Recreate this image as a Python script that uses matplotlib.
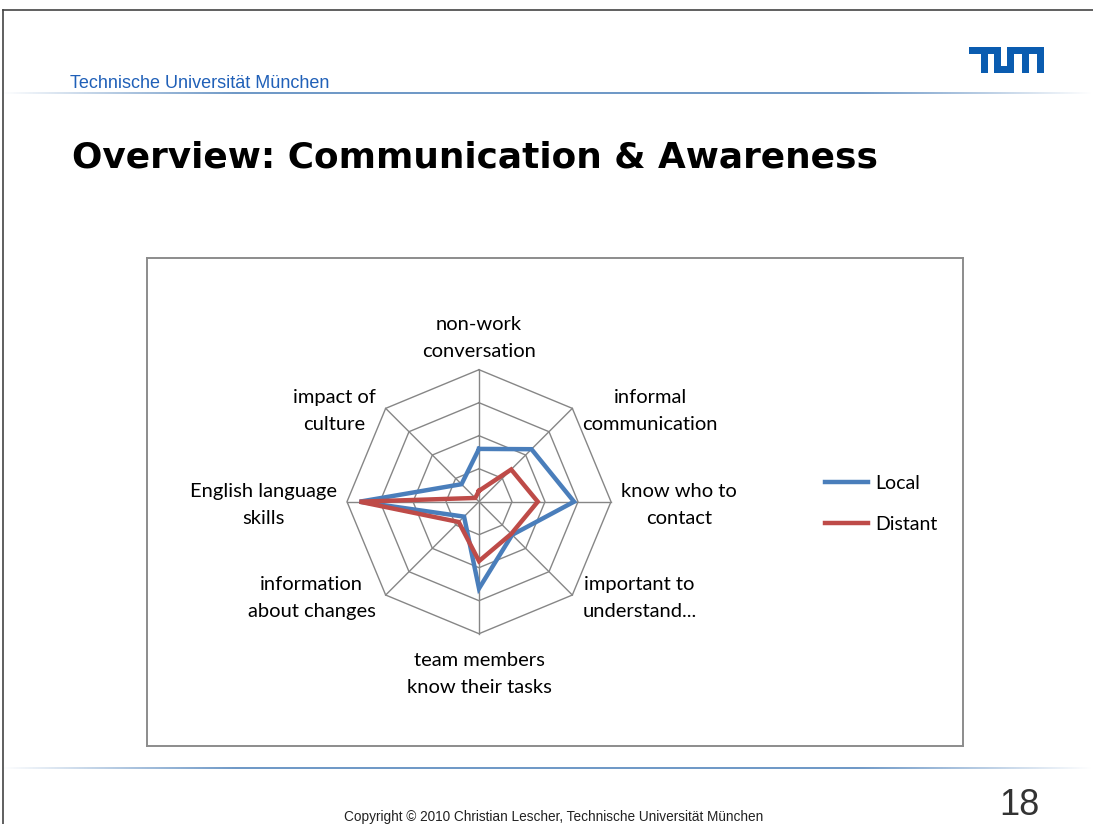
import numpy as np
import matplotlib.pyplot as plt
from matplotlib.patches import Rectangle

CATEGORIES = ['non-work\nconversation', 'informal\ncommunication', 'know who to\ncontact',
              'important to\nunderstand...', 'team members\nknow their tasks',
              'information\nabout changes', 'English language\nskills', 'impact of\nculture']
LOCAL = [1.6, 2.25, 2.88, 1.42, 2.63, 0.64, 3.62, 0.75]
DISTANT = [0.33, 1.38, 1.78, 1.38, 1.8, 0.87, 3.62, 0.16]
RINGS = [1, 2, 3, 4]

BLUE = '#4a7ebb'
RED = '#be4b48'
TUM_BLUE = '#0a5cb0'

W, H = 1093, 824
fig = plt.figure(figsize=(W / 100, H / 100), dpi=100)


def fx(px):
    return px / W


def fy(py):
    return 1 - py / H


# slide frame
fig.add_artist(plt.Line2D([fx(3), 1], [fy(10), fy(10)], color='#444444', lw=1.2))
fig.add_artist(plt.Line2D([fx(3), fx(3)], [fy(10), 0], color='#444444', lw=1.2))

# gradient rules under header and above footer
grad = np.linspace(0, 1, 400)
alpha = np.clip(np.sin(grad * np.pi) * 1.6, 0, 1)
rgba = np.zeros((1, 400, 4))
rgba[..., 0], rgba[..., 1], rgba[..., 2] = 0.38, 0.56, 0.76
rgba[..., 3] = alpha * 0.9
for ypx in (93, 768):
    gax = fig.add_axes([0, fy(ypx + 1), 1, 2 / H])
    gax.imshow(rgba, aspect='auto', extent=(0, 1, 0, 1))
    gax.axis('off')

fig.text(fx(70), fy(88), 'Technische Universität München', color='#2060b8',
         fontsize=13, family='Liberation Sans', va='baseline')

# TUM logo blocks (x0, y0, x1, y1) in pixels
for x0, y0, x1, y1 in [(969, 47, 1001, 54), (981, 47, 988, 73), (994, 47, 1001, 73),
                       (994, 66, 1014, 73), (1007, 47, 1014, 73), (1007, 47, 1044, 54),
                       (1022, 47, 1029, 73), (1037, 47, 1044, 73)]:
    fig.add_artist(Rectangle((fx(x0), fy(y1)), fx(x1 - x0), (y1 - y0) / H,
                             color=TUM_BLUE, lw=0))

fig.text(fx(72), fy(167), 'Overview: Communication & Awareness', fontsize=25.8,
         fontweight='heavy', family='DejaVu Sans', va='baseline')

fig.text(fx(1040), fy(815), '18', fontsize=26, color='#333333',
         family='Liberation Sans', ha='right', va='baseline')
fig.text(fx(554), fy(821), 'Copyright © 2010 Christian Lescher, Technische Universität München',
         fontsize=9.8, color='#222222', family='Liberation Sans', ha='center', va='baseline')

# chart area: 33 px per unit, centre at (479, 501.7)
box = (147, 258, 963, 746)
cx, cy, unit = 479, 501.7, 33.0
ax = fig.add_axes([fx(box[0]), fy(box[3]), (box[2] - box[0]) / W, (box[3] - box[1]) / H])
ax.set_xlim((box[0] - cx) / unit, (box[2] - cx) / unit)
ax.set_ylim((cy - box[3]) / unit, (cy - box[1]) / unit)
ax.set_xticks([])
ax.set_yticks([])
for s in ax.spines.values():
    s.set_color('#8c8c8c')
    s.set_linewidth(1.4)

n = len(CATEGORIES)
ang = np.deg2rad(90 - 360 / n * np.arange(n))
ca, sa = np.cos(ang), np.sin(ang)

for r in RINGS:
    ax.plot(np.append(r * ca, r * ca[0]), np.append(r * sa, r * sa[0]),
            color='#868686', lw=1.0, zorder=1)
for c, s in zip(ca, sa):
    ax.plot([0, RINGS[-1] * c], [0, RINGS[-1] * s], color='#868686', lw=1.0, zorder=1)

for vals, color, name in [(LOCAL, BLUE, 'Local'), (DISTANT, RED, 'Distant')]:
    v = np.array(vals)
    ax.plot(np.append(v * ca, v[0] * ca[0]), np.append(v * sa, v[0] * sa[0]),
            color=color, lw=3.2, label=name, zorder=3, solid_joinstyle='miter')

rmax = RINGS[-1]
pad = 0.3
for lab, c, s in zip(CATEGORIES, ca, sa):
    x, y = rmax * c, rmax * s
    if abs(c) < 0.1:
        ha = 'center'
        va = 'bottom' if s > 0 else 'top'
        y += pad if s > 0 else -pad - 0.25
    else:
        ha = 'left' if c > 0 else 'right'
        va = 'center'
        x += pad if c > 0 else -pad
        y -= 0.09
    ax.text(x, y, lab, ha=ha, va=va, multialignment='center', fontsize=14.5,
            family='Lato', linespacing=1.7, color='black')

ax.legend(loc='center left', bbox_to_anchor=((825 - box[0]) / 816, 0.496), frameon=False,
          prop={'family': 'Lato', 'size': 14}, handlelength=2.2, handletextpad=0.4,
          labelspacing=1.2, borderaxespad=0, borderpad=0)

fig.savefig('out.png', dpi=100)
